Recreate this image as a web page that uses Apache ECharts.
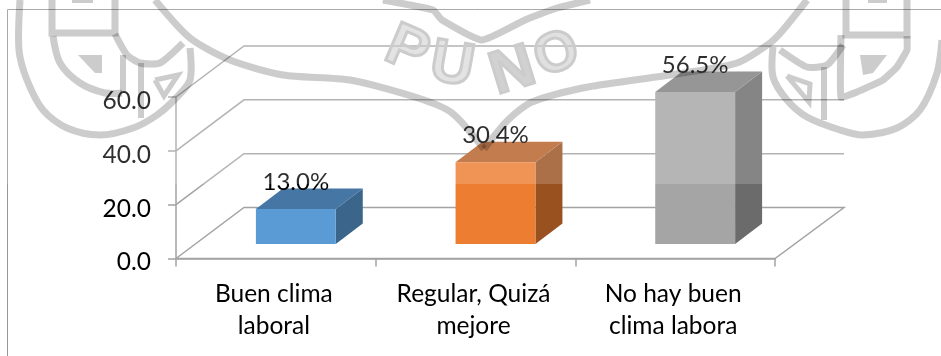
<!DOCTYPE html>
<html>
<head>
<meta charset="utf-8">
<style>html,body{margin:0;padding:0;background:#fff}#chart{width:941px;height:356px}</style>
<script src="https://cdn.jsdelivr.net/npm/echarts@6/dist/echarts.min.js"></script>
</head>
<body>
<div id="chart"></div>
<script>
// Clima laboral: share of responses per category
const categories = ['Buen clima\nlaboral', 'Regular, Quizá\nmejore', 'No hay buen\nclima labora'];
const values = [13.0, 30.4, 56.5];
const tickValues = [0, 20, 40, 60];
const barColors = ['#5B9BD5', '#ED7D31', '#A5A5A5'];
const wallColor = '#a3a3a3';
const FONT = 'Lato, "Open Sans", sans-serif';
const FONT_SIZE = 24.5;
const VALUE_FONT_SIZE = 24;

// Oblique projection of the chart's depth axis, in pixels
const WALL = { dx: 68, dy: -51 };
const BAR_OFFSET = { dx: 20, dy: -14.5 };
const BAR_DEPTH = { dx: 27, dy: -20.5 };

function shade(hex, f) {
  const n = parseInt(hex.slice(1), 16);
  const c = s => Math.round(((n >> s) & 255) * f);
  return 'rgb(' + c(16) + ',' + c(8) + ',' + c(0) + ')';
}

// Back wall and floor: one bent line per value tick
function renderWall(params, api) {
  const v = api.value(0);
  const left = api.coord([0, v]);
  const halfCat = api.size([1, 0])[0] / 2;
  const x0 = left[0] - halfCat;
  const x1 = x0 + halfCat * 2 * categories.length;
  const y = left[1];
  const pts = [[x0, y], [x0 + WALL.dx, y + WALL.dy], [x1 + WALL.dx + 1, y + WALL.dy]];
  if (v === 0) pts.push([x1, y], [x0, y]);
  return {
    type: 'polyline',
    shape: { points: pts },
    style: { fill: null, stroke: wallColor, lineWidth: 1.5 }
  };
}

// A box per category: front, top and side faces plus its value label
function renderBar(params, api) {
  const i = api.value(0);
  const v = api.value(1);
  const base = api.coord([i, 0]);
  const top = api.coord([i, v]);
  const w = api.size([1, 0])[0] * 0.4;
  const x0 = base[0] - w / 2 + BAR_OFFSET.dx;
  const x1 = x0 + w;
  const yb = base[1] + BAR_OFFSET.dy;
  const yt = top[1] + BAR_OFFSET.dy;
  const d = BAR_DEPTH;
  const col = barColors[i];
  return {
    type: 'group',
    children: [
      { type: 'polygon', shape: { points: [[x1, yb], [x1 + d.dx, yb + d.dy], [x1 + d.dx, yt + d.dy], [x1, yt]] },
        style: { fill: shade(col, 0.65) } },
      { type: 'polygon', shape: { points: [[x0, yt], [x1, yt], [x1 + d.dx, yt + d.dy], [x0 + d.dx, yt + d.dy]] },
        style: { fill: shade(col, 0.77) } },
      { type: 'rect', shape: { x: x0, y: yt, width: w, height: yb - yt }, style: { fill: col } },
      { type: 'text', x: (x0 + x1) / 2, y: yt - 27,
        style: { text: v.toFixed(1) + '%', fill: '#000', font: VALUE_FONT_SIZE + 'px ' + FONT, align: 'center', verticalAlign: 'middle' } }
    ]
  };
}

// University crest printed behind the page
const CREST = '#cccccc';
const stroke = (points, lineWidth, smooth) => ({
  type: 'polyline', z: 90, silent: true,
  shape: { points, smooth: smooth || 0 },
  style: { fill: null, stroke: CREST, lineWidth: lineWidth || 7, blend: 'multiply', lineJoin: 'miter' }
});
const solid = points => ({
  type: 'polygon', z: 90, silent: true,
  shape: { points },
  style: { fill: CREST, blend: 'multiply' }
});
const letter = (text, x, y, deg, size, fillAlpha) => ({
  type: 'text', z: 90, silent: true, x, y, rotation: deg * Math.PI / 180,
  style: { text, font: 'bold ' + size + 'px "Liberation Sans", sans-serif', fill: 'rgba(204,204,204,' + fillAlpha + ')',
    stroke: CREST, lineWidth: 3, align: 'center', verticalAlign: 'middle', blend: 'multiply' }
});

const crest = [
  // left shield
  stroke([[20, 0], [19, 50], [27, 80], [43, 110], [67, 128], [100, 135], [133, 128], [157, 115], [177, 97], [190, 80], [190, 48]], 7, 0.3),
  stroke([[52, 0], [52, 33], [115, 33], [115, 0]], 7),
  stroke([[53, 36], [60, 63], [80, 83], [105, 93], [122, 93]], 7, 0.3),
  stroke([[115, 34], [127, 55], [140, 63], [160, 63], [183, 43]], 7, 0.2),
  stroke([[123, 55], [123, 92]], 6),
  stroke([[141, 63], [141, 118]], 6),
  solid([[78, 55], [102, 55], [102, 73], [95, 73]]),
  stroke([[155, 80], [178, 75], [164, 96], [155, 80]], 5),
  solid([[72, 0], [93, 0], [93, 3], [72, 3]]),
  // ribbons under the shields
  stroke([[155, 0], [190, 38], [230, 60], [283, 75], [350, 80], [418, 98], [452, 113], [484, 149]], 7, 0.25),
  stroke([[484, 149], [508, 120], [532, 102], [588, 87], [670, 75], [737, 63], [770, 43], [783, 30], [807, 0]], 7, 0.25),
  stroke([[383, 0], [433, 10], [442, 20], [482, 40], [525, 20], [557, 8], [590, 0]], 7, 0.15),
  // right shield
  stroke([[846, 0], [846, 35], [907, 35], [907, 0]], 7),
  stroke([[907, 36], [907, 50], [897, 67], [883, 80], [857, 92], [841, 97], [841, 35]], 7, 0.1),
  stroke([[773, 47], [773, 77], [787, 100], [807, 117], [840, 130], [863, 135], [897, 128], [920, 110], [937, 73], [942, 40]], 7, 0.3),
  stroke([[780, 50], [807, 67], [827, 65], [843, 45]], 7, 0.2),
  stroke([[824, 67], [824, 120]], 6),
  solid([[860, 55], [887, 55], [873, 73], [863, 75]]),
  stroke([[787, 76], [810, 84], [809, 102], [787, 76]], 5),
  solid([[868, 0], [887, 0], [887, 3], [868, 3]]),
  // lettering along the arc
  letter('P', 407, 51, -23, 60, 0.55),
  letter('U', 452, 66, -10, 60, 0.55),
  letter('N', 513, 72, 17, 60, 0.9),
  letter('O', 557, 55, 20, 56, 0.6)
];

const frame = [
  // chart area border, open towards the right and bottom
  { type: 'polyline', z: 5, silent: true, shape: { points: [[7.5, 356], [7.5, 9.5], [941, 9.5]] },
    style: { fill: null, stroke: '#979797', lineWidth: 1 } },
  // the faded upper band of the sheet
  { type: 'rect', z: 80, silent: true, shape: { x: 0, y: 0, width: 941, height: 184 },
    style: { fill: 'rgba(255,255,255,0.18)' } }
];

const chart = echarts.init(document.getElementById('chart'), null, { renderer: 'canvas' });
chart.setOption({
  animation: false,
  backgroundColor: '#ffffff',
  grid: { left: 176, top: 97, width: 599, height: 161.5 },
  xAxis: {
    type: 'category',
    data: categories,
    axisLine: { show: true, lineStyle: { color: wallColor, width: 1.5 } },
    axisTick: { show: true, length: 8, lineStyle: { color: wallColor, width: 1.5 } },
    axisLabel: { color: '#000', fontFamily: FONT, fontSize: FONT_SIZE, lineHeight: 32, margin: 20, interval: 0, padding: [0, 4, 0, 0] }
  },
  yAxis: {
    type: 'value', min: 0, max: 60, interval: 20,
    axisLine: { show: true, lineStyle: { color: wallColor, width: 1.5 } },
    axisTick: { show: true, length: 8, lineStyle: { color: wallColor, width: 1.5 } },
    splitLine: { show: false },
    axisLabel: { color: '#000', fontFamily: FONT, fontSize: FONT_SIZE, margin: 25, verticalAlign: 'top', lineHeight: 8, formatter: v => v.toFixed(1) }
  },
  graphic: { elements: frame.concat(crest) },
  series: [
    { type: 'custom', z: 2, coordinateSystem: 'cartesian2d', silent: true, clip: false,
      encode: { x: 1, y: 0 }, data: tickValues.map(v => [v, 0]), renderItem: renderWall },
    { type: 'custom', z: 3, coordinateSystem: 'cartesian2d', silent: true, clip: false,
      encode: { x: 0, y: 1 }, data: values.map((v, i) => [i, v]), renderItem: renderBar }
  ]
});
</script>
</body>
</html>
